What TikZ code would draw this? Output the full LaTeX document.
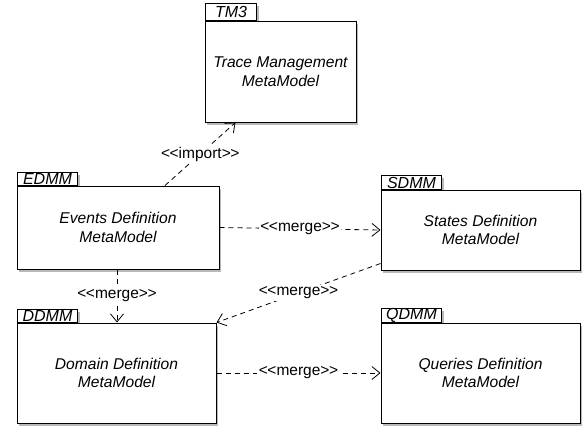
\documentclass[tikz,border=0pt]{standalone}
\usepackage{fontspec}
\setmainfont{Liberation Sans}
\usetikzlibrary{shadows,arrows.meta}
\tikzset{
  shd/.style={drop shadow={shadow xshift=2pt,shadow yshift=-2.5pt,opacity=0.55}},
  pkgbody/.style={draw=black,line width=1pt,fill=white,shd,rectangle,inner sep=0pt,
     align=center,font=\itshape\fontsize{15.6}{18.5}\selectfont},
  pkgtab/.style={draw=black,line width=1pt,fill=white,shd,rectangle,inner sep=0pt,
     anchor=south west,font=\itshape\fontsize{16}{15}\selectfont},
  dep/.style={draw=black,line width=0.8pt,dash pattern=on 5pt off 4pt,
     -{Straight Barb[length=8pt,width=13pt,line width=0.8pt]}},
  lab/.style={fill=white,inner sep=1.5pt,font=\fontsize{15.5}{17}\selectfont}
}
\newcommand{\stereo}[1]{<\kern-0.5pt<#1>\kern-0.5pt>}
\begin{document}
\begin{tikzpicture}[x=1pt,y=-1pt]
\useasboundingbox (0,0) rectangle (587,429);
% tabs
\node[pkgtab,minimum width=51pt,minimum height=17pt] (tmt) at (205,21) {TM3};
\node[pkgtab,minimum width=60pt,minimum height=13pt] (et) at (17,186) {EDMM};
\node[pkgtab,minimum width=60pt,minimum height=14pt] (st) at (381,190) {SDMM};
\node[pkgtab,minimum width=60pt,minimum height=13pt] (dt) at (17,323) {DDMM};
\node[pkgtab,minimum width=60pt,minimum height=13pt] (qt) at (381,323) {QDMM};
% bodies
\node[pkgbody,minimum width=151pt,minimum height=101pt] (tm) at (280.5,71.5) {Trace Management\\MetaModel};
\node[pkgbody,minimum width=202pt,minimum height=83pt] (e) at (118,227.5) {Events Definition\\MetaModel};
\node[pkgbody,minimum width=199pt,minimum height=80pt] (s) at (480.5,230) {States Definition\\MetaModel};
\node[pkgbody,minimum width=199pt,minimum height=100pt] (d) at (116.5,373) {Domain Definition\\MetaModel};
\node[pkgbody,minimum width=199pt,minimum height=100pt] (q) at (480.5,373) {Queries Definition\\MetaModel};
% connectors
\draw[dep] ([xshift=47pt]e.north) -- node[lab]{\stereo{import}} ([xshift=-45pt]tm.south);
\draw[dep] (e.east) -- node[lab]{\stereo{merge}} (s.west);
\draw[dep] ([xshift=-1pt]e.south) -- node[lab]{\stereo{merge}} ([xshift=0.5pt]d.north);
\draw[dep] ([yshift=7pt]s.south west) -- node[lab]{\stereo{merge}} (d.north east);
\draw[dep] (d.east) -- node[lab]{\stereo{merge}} (q.west);
\end{tikzpicture}
\end{document}
